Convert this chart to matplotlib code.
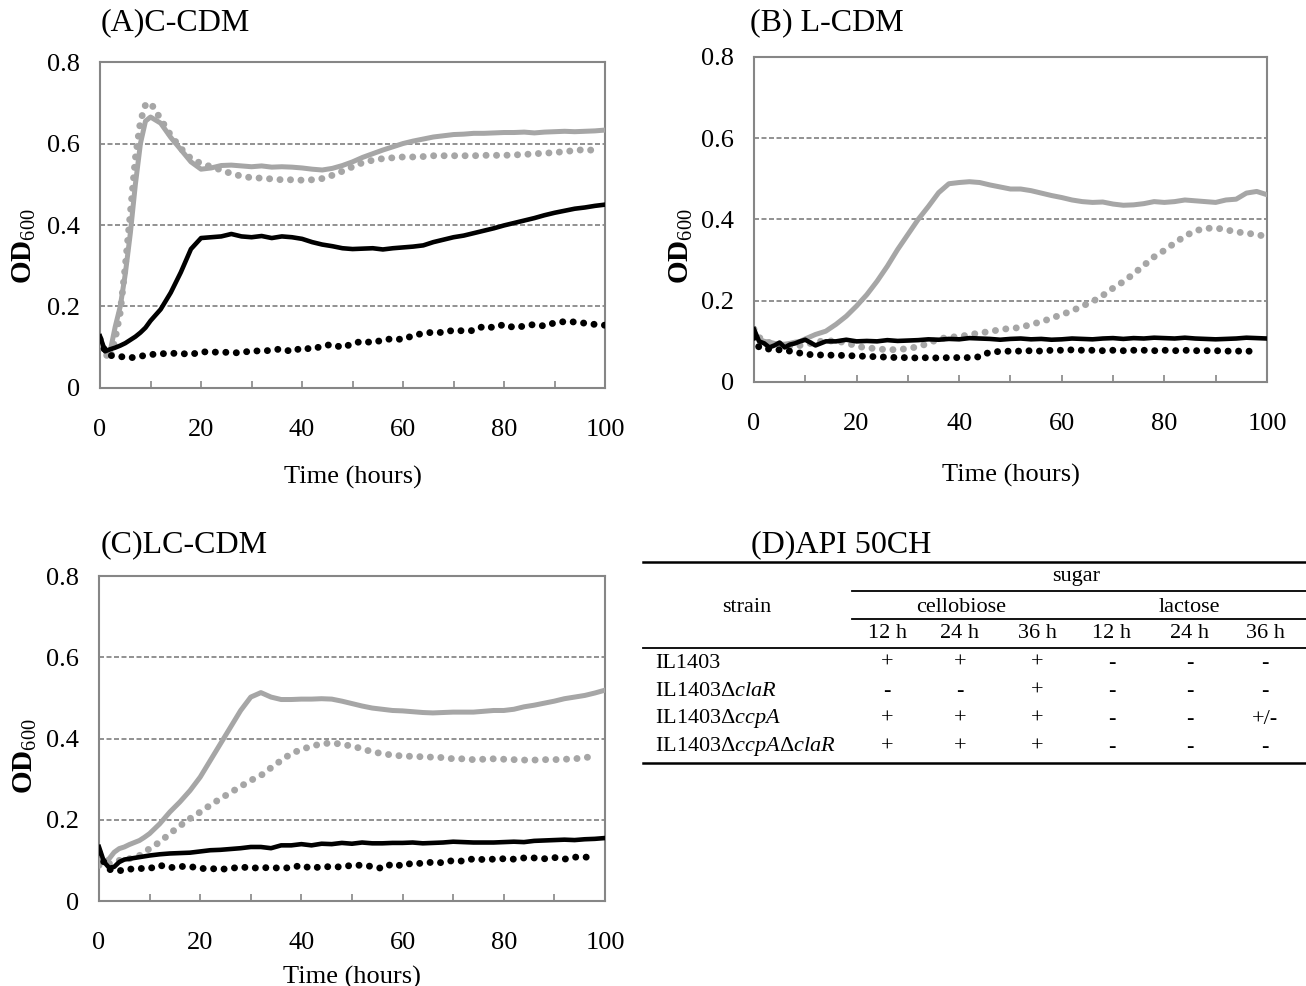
#!/usr/bin/env python3
"""Growth curves (OD600) of IL1403 strains in C-/L-/LC-CDM plus API 50CH table."""

import matplotlib
matplotlib.use("Agg")
import matplotlib.pyplot as plt
import numpy as np

nan = float("nan")

# sampling times (hours)
TIME = [0, 1, 2, 3, 4, 5, 6, 7, 8, 9, 10,
        12, 14, 16, 18, 20, 22, 24, 26, 28, 30, 32, 34, 36, 38, 40,
        42, 44, 46, 48, 50, 52, 54, 56, 58, 60, 62, 64, 66, 68, 70,
        72, 74, 76, 78, 80, 82, 84, 86, 88, 90, 92, 94, 96, 98, 100]

# (A) C-CDM
A_GRAY_SOLID = [0.12, 0.09, 0.09, 0.15, 0.20, 0.28, 0.38, 0.50, 0.60, 0.655, 0.665,
                0.65, 0.615, 0.585, 0.555, 0.537, 0.54, 0.546, 0.547, 0.545, 0.543, 0.545, 0.542, 0.543, 0.542, 0.54,
                0.537, 0.535, 0.539, 0.546, 0.555, 0.566, 0.575, 0.584, 0.592, 0.60, 0.606, 0.611, 0.616, 0.619, 0.622,
                0.623, 0.625, 0.625, 0.626, 0.627, 0.627, 0.628, 0.626, 0.628, 0.629, 0.63, 0.629, 0.63, 0.631, 0.633]
A_GRAY_DOT = [0.10, 0.085, 0.07, 0.12, 0.185, 0.30, 0.43, 0.565, 0.655, 0.695, 0.70,
              0.66, 0.62, 0.588, 0.563, 0.551, 0.543, 0.535, 0.526, 0.52, 0.516, 0.515, 0.513, 0.511, 0.511, 0.51,
              0.511, 0.514, 0.522, 0.532, 0.543, 0.553, 0.559, 0.563, 0.565, 0.567, 0.567, 0.568, 0.57, 0.57, 0.57,
              0.57, 0.57, 0.571, 0.571, 0.571, 0.572, 0.573, 0.575, 0.576, 0.578, 0.58, 0.583, 0.585, 0.583, nan]
A_BLACK_SOLID = [0.127, 0.09, 0.095, 0.099, 0.104, 0.11, 0.118, 0.126, 0.136, 0.148, 0.165,
                 0.193, 0.234, 0.284, 0.341, 0.368, 0.37, 0.372, 0.378, 0.372, 0.37, 0.373, 0.368, 0.372, 0.37, 0.366,
                 0.358, 0.352, 0.348, 0.343, 0.341, 0.342, 0.343, 0.34, 0.343, 0.345, 0.347, 0.35, 0.358, 0.364, 0.37,
                 0.374, 0.38, 0.386, 0.392, 0.399, 0.405, 0.411, 0.417, 0.424, 0.43, 0.435, 0.44, 0.443, 0.447, 0.45]
A_BLACK_DOT = [0.12, 0.09, 0.08, 0.078, 0.077, 0.076, 0.074, 0.076, 0.078, 0.08, 0.082,
               0.084, 0.085, 0.085, 0.082, 0.089, 0.088, 0.088, 0.087, 0.086, 0.092, 0.09, 0.093, 0.096, 0.089, 0.099,
               0.095, 0.103, 0.107, 0.099, 0.109, 0.115, 0.111, 0.118, 0.121, 0.119, 0.129, 0.134, 0.137, 0.136, 0.142,
               0.14, 0.141, 0.152, 0.148, 0.156, 0.148, 0.152, 0.156, 0.152, 0.16, 0.163, 0.162, 0.159, 0.156, 0.154]

# (B) L-CDM
B_GRAY_SOLID = [0.113, 0.105, 0.10, 0.098, 0.095, 0.093, 0.093, 0.095, 0.098, 0.10, 0.106,
                0.117, 0.125, 0.142, 0.162, 0.187, 0.215, 0.248, 0.285, 0.326, 0.363, 0.40, 0.432, 0.466, 0.488, 0.491,
                0.493, 0.491, 0.485, 0.48, 0.475, 0.475, 0.471, 0.465, 0.459, 0.454, 0.448, 0.444, 0.442, 0.443, 0.438,
                0.435, 0.436, 0.439, 0.444, 0.442, 0.444, 0.448, 0.446, 0.444, 0.442, 0.448, 0.45, 0.465, 0.469, 0.461]
B_GRAY_DOT = [0.13, 0.11, 0.10, 0.097, 0.095, 0.093, 0.09, 0.088, 0.088, 0.09, 0.092,
              0.098, 0.102, 0.10, 0.097, 0.088, 0.084, 0.082, 0.079, 0.08, 0.082, 0.087, 0.095, 0.106, 0.11, 0.112,
              0.116, 0.121, 0.124, 0.129, 0.132, 0.134, 0.142, 0.148, 0.157, 0.166, 0.175, 0.187, 0.198, 0.213, 0.231,
              0.247, 0.266, 0.287, 0.308, 0.324, 0.342, 0.359, 0.372, 0.378, 0.379, 0.375, 0.369, 0.367, 0.362, 0.359]
B_BLACK_SOLID = [0.13, 0.10, 0.095, 0.085, 0.09, 0.097, 0.085, 0.092, 0.095, 0.10, 0.104,
                 0.09, 0.10, 0.10, 0.104, 0.10, 0.101, 0.10, 0.103, 0.101, 0.102, 0.103, 0.105, 0.104, 0.106, 0.105,
                 0.108, 0.107, 0.106, 0.104, 0.106, 0.107, 0.105, 0.106, 0.104, 0.105, 0.107, 0.106, 0.105, 0.107, 0.108,
                 0.106, 0.108, 0.107, 0.109, 0.108, 0.107, 0.109, 0.107, 0.106, 0.105, 0.106, 0.107, 0.109, 0.108, 0.107]
B_BLACK_DOT = [0.11, 0.085, 0.082, 0.081, 0.08, 0.079, 0.078, 0.076, 0.074, 0.071, 0.068,
               0.067, 0.066, 0.066, 0.065, 0.064, 0.063, 0.062, 0.061, 0.06, 0.06, 0.059, 0.06, 0.059, 0.06, 0.06,
               0.06, 0.062, 0.074, 0.075, 0.076, 0.076, 0.077, 0.076, 0.078, 0.078, 0.079, 0.078, 0.078, 0.077, 0.078,
               0.077, 0.078, 0.078, 0.077, 0.078, 0.077, 0.078, 0.077, 0.077, 0.077, 0.076, 0.076, 0.076, 0.075, nan]

# (C) LC-CDM
C_GRAY_SOLID = [0.10, 0.096, 0.104, 0.12, 0.129, 0.133, 0.139, 0.144, 0.149, 0.157, 0.166,
                0.19, 0.219, 0.244, 0.272, 0.305, 0.346, 0.387, 0.428, 0.469, 0.502, 0.513, 0.502, 0.496, 0.496, 0.497,
                0.497, 0.498, 0.497, 0.492, 0.486, 0.48, 0.475, 0.472, 0.469, 0.468, 0.466, 0.464, 0.463, 0.464, 0.465,
                0.465, 0.465, 0.467, 0.469, 0.469, 0.472, 0.478, 0.482, 0.487, 0.492, 0.498, 0.502, 0.506, 0.512, 0.519]
C_GRAY_DOT = [0.088, 0.09, 0.092, 0.096, 0.10, 0.102, 0.104, 0.108, 0.112, 0.12, 0.129,
              0.145, 0.166, 0.185, 0.203, 0.219, 0.236, 0.252, 0.267, 0.282, 0.297, 0.309, 0.328, 0.346, 0.363, 0.373,
              0.381, 0.387, 0.389, 0.386, 0.381, 0.375, 0.367, 0.363, 0.359, 0.357, 0.356, 0.355, 0.354, 0.353, 0.35,
              0.35, 0.348, 0.349, 0.35, 0.349, 0.348, 0.347, 0.347, 0.348, 0.348, 0.349, 0.35, 0.353, 0.356, nan]
C_BLACK_SOLID = [0.133, 0.096, 0.082, 0.084, 0.096, 0.102, 0.104, 0.106, 0.108, 0.11, 0.112,
                 0.115, 0.117, 0.118, 0.119, 0.122, 0.125, 0.126, 0.128, 0.13, 0.133, 0.133, 0.13, 0.137, 0.137, 0.14,
                 0.137, 0.141, 0.14, 0.143, 0.141, 0.144, 0.142, 0.142, 0.143, 0.143, 0.144, 0.142, 0.143, 0.144, 0.146,
                 0.145, 0.144, 0.144, 0.144, 0.145, 0.146, 0.145, 0.148, 0.149, 0.15, 0.151, 0.15, 0.152, 0.153, 0.155]
C_BLACK_DOT = [0.12, 0.095, 0.078, 0.075, 0.075, 0.075, 0.078, 0.08, 0.08, 0.08, 0.08,
               0.088, 0.082, 0.085, 0.085, 0.08, 0.08, 0.078, 0.08, 0.084, 0.081, 0.082, 0.082, 0.081, 0.082, 0.088,
               0.08, 0.085, 0.084, 0.084, 0.088, 0.088, 0.085, 0.08, 0.092, 0.086, 0.094, 0.092, 0.096, 0.094, 0.10,
               0.098, 0.104, 0.102, 0.103, 0.104, 0.103, 0.106, 0.106, 0.104, 0.107, 0.103, 0.108, 0.108, 0.108, nan]

# (D) API 50CH
STRAINS = ["IL1403", r"IL1403Δ$\mathit{claR}$", r"IL1403Δ$\mathit{ccpA}$",
           r"IL1403Δ$\mathit{ccpA}$Δ$\mathit{claR}$"]
SUGARS = ["cellobiose", "lactose"]
HOURS = ["12 h", "24 h", "36 h"]
API_RESULTS = [["+", "+", "+", "-", "-", "-"],
               ["-", "-", "+", "-", "-", "-"],
               ["+", "+", "+", "-", "-", "+/-"],
               ["+", "+", "+", "-", "-", "-"]]

GRAY = "#a6a6a6"
GRID = "#7f7f7f"
SPINE = "#868686"
FS = 19
TITLE_FS = 23


def draw_panel(ax, series, xlabel_y, ylabel_xy):
    gray_solid, gray_dot, black_solid, black_dot = series
    t = np.array(TIME)
    dots = (0, (0.01, 1.5))
    ax.plot(t, gray_dot, color=GRAY, lw=5, ls=dots, dash_capstyle="round", zorder=3)
    ax.plot(t, gray_solid, color=GRAY, lw=3.6, zorder=4)
    ax.plot(t, black_dot, color="black", lw=5, ls=dots, dash_capstyle="round", zorder=5)
    ax.plot(t, black_solid, color="black", lw=3.3, zorder=6)

    ax.set_xlim(0, 100)
    ax.set_ylim(0, 0.8)
    ax.set_xticks([0, 20, 40, 60, 80, 100])
    ax.set_xticks([10, 30, 50, 70, 90], minor=True)
    ax.set_yticks([0, 0.2, 0.4, 0.6, 0.8])
    ax.set_yticklabels(["0", "0.2", "0.4", "0.6", "0.8"])
    ax.tick_params(axis="x", which="both", direction="in", length=5, width=1.2,
                   color=SPINE, pad=22, labelsize=FS)
    ax.tick_params(axis="y", length=0, pad=14.5, labelsize=FS)
    ax.yaxis.grid(True, color=GRID, lw=1.2, ls=(0, (3, 1.5)))
    ax.set_axisbelow(True)
    for sp in ax.spines.values():
        sp.set_color(SPINE)
        sp.set_linewidth(1.5)

    ax.set_xlabel("Time (hours)", fontsize=FS)
    ax.xaxis.set_label_coords(0.5, xlabel_y)
    ax.xaxis.label.set_va("center")
    ax.set_ylabel("OD$_{600}$", fontsize=FS + 2, fontweight="bold")
    ax.yaxis.set_label_coords(*ylabel_xy)
    ax.yaxis.label.set_va("center")


def draw_table(tab):
    x0, x1, xs = 643, 1306, 852
    col_x = [887, 960, 1037, 1112, 1190, 1265]
    kw = dict(fontsize=16, ha="center", va="center")

    tab.text(751, 545, "(D)API 50CH", fontsize=TITLE_FS, ha="left", va="center")
    tab.plot([x0, x1], [562, 562], color="black", lw=1.8)
    tab.text(1076, 577, "sugar", **kw)
    tab.plot([xs, x1], [591, 591], color="black", lw=1.3)
    tab.text(747, 608, "strain", **kw)
    for i, sugar in enumerate(SUGARS):
        cx = np.mean(col_x[3 * i:3 * i + 3])
        tab.text(cx, 607, sugar, **kw)
    tab.plot([xs, x1], [619, 619], color="black", lw=1.3)
    for i, cx in enumerate(col_x):
        tab.text(cx, 633, HOURS[i % 3], **kw)
    tab.plot([x0, x1], [648, 648], color="black", lw=1.3)

    row_y = [663, 691, 719, 747]
    for strain, results, ry in zip(STRAINS, API_RESULTS, row_y):
        tab.text(655, ry, strain, fontsize=16, ha="left", va="center")
        for cx, val in zip(col_x, results):
            tab.text(cx, ry, val, **kw)
    tab.plot([x0, x1], [763, 763], color="black", lw=1.8)


def main():
    plt.rcParams["font.family"] = ["Liberation Serif", "DejaVu Serif"]
    plt.rcParams["mathtext.fontset"] = "custom"
    plt.rcParams["mathtext.rm"] = "Liberation Serif"
    plt.rcParams["mathtext.it"] = "Liberation Serif:italic"
    plt.rcParams["mathtext.bf"] = "Liberation Serif:bold"

    fig = plt.figure(figsize=(13.06, 9.86), dpi=100)

    tab = fig.add_axes([0, 0, 1, 1], zorder=-1)
    tab.set_xlim(0, 1306)
    tab.set_ylim(986, 0)
    tab.axis("off")

    ax_a = fig.add_axes([0.0766, 0.6065, 0.3867, 0.3306])
    ax_b = fig.add_axes([0.5773, 0.6126, 0.3928, 0.3296])
    ax_c = fig.add_axes([0.0758, 0.0862, 0.3874, 0.3296])

    draw_panel(ax_a, (A_GRAY_SOLID, A_GRAY_DOT, A_BLACK_SOLID, A_BLACK_DOT), -0.273, (-0.150, 0.435))
    draw_panel(ax_b, (B_GRAY_SOLID, B_GRAY_DOT, B_BLACK_SOLID, B_BLACK_DOT), -0.289, (-0.142, 0.417))
    draw_panel(ax_c, (C_GRAY_SOLID, C_GRAY_DOT, C_BLACK_SOLID, C_BLACK_DOT), -0.234, (-0.145, 0.446))

    tab.text(101, 23, "(A)C-CDM", fontsize=TITLE_FS, ha="left", va="center")
    tab.text(750, 23, "(B) L-CDM", fontsize=TITLE_FS, ha="left", va="center")
    tab.text(101, 545, "(C)LC-CDM", fontsize=TITLE_FS, ha="left", va="center")
    draw_table(tab)

    fig.savefig("out.png", dpi=100)
    plt.close(fig)


if __name__ == "__main__":
    main()
